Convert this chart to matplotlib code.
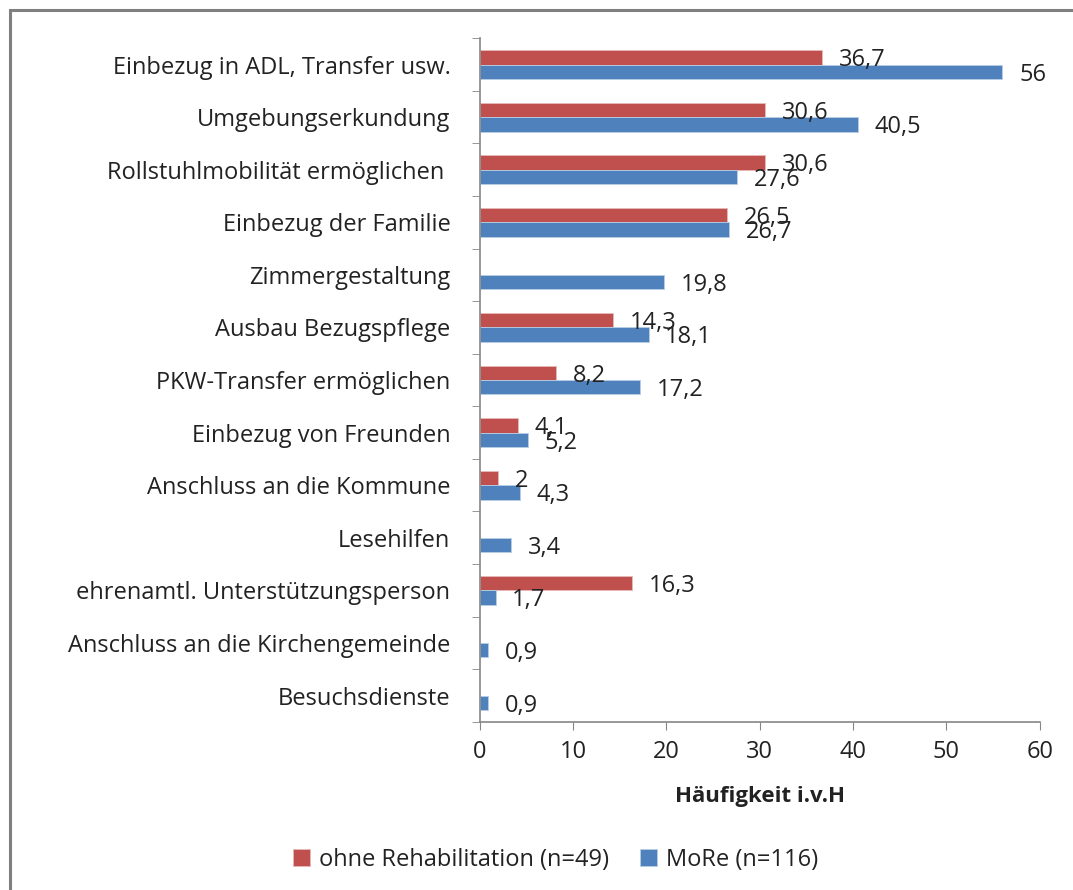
import numpy as np
import matplotlib.pyplot as plt
from matplotlib.patches import Rectangle

plt.rcParams['font.family'] = ['Open Sans', 'DejaVu Sans']

# Data (top to bottom as in the chart)
categories = ['Einbezug in ADL, Transfer usw.', 'Umgebungserkundung',
              'Rollstuhlmobilität ermöglichen ', 'Einbezug der Familie',
              'Zimmergestaltung', 'Ausbau Bezugspflege',
              'PKW-Transfer ermöglichen', 'Einbezug von Freunden',
              'Anschluss an die Kommune', 'Lesehilfen',
              'ehrenamtl. Unterstützungsperson',
              'Anschluss an die Kirchengemeinde', 'Besuchsdienste']
ohne_reha = [36.7, 30.6, 30.6, 26.5, np.nan, 14.3, 8.2, 4.1, 2, np.nan,
             16.3, np.nan, np.nan]
more = [56, 40.5, 27.6, 26.7, 19.8, 18.1, 17.2, 5.2, 4.3, 3.4, 1.7, 0.9, 0.9]
series_names = ['ohne Rehabilitation (n=49)', 'MoRe (n=116)']

RED = '#C0504D'
BLUE = '#4F81BD'
GRAY = '#868686'
TXT = '#222222'
FS = 17


def fmt(v):
    s = ('%.1f' % v).rstrip('0').rstrip('.')
    return s.replace('.', ',')


fig = plt.figure(figsize=(10.73, 8.9), dpi=100)
ax = fig.add_axes([0.447, 0.189, 0.522, 0.768])

y = np.arange(len(categories))
h = 0.275
red_bars = ax.barh(y - h / 2, ohne_reha, height=h, color=RED,
                   edgecolor='#E6B9B8', linewidth=0.6, label=series_names[0])
blue_bars = ax.barh(y + h / 2, more, height=h, color=BLUE,
                    edgecolor='#B9CDE5', linewidth=0.6, label=series_names[1])

# value labels
for bars, vals in ((red_bars, ohne_reha), (blue_bars, more)):
    for b, v in zip(bars, vals):
        if np.isnan(v):
            continue
        ax.annotate(fmt(v), (v, b.get_y() + b.get_height() / 2),
                    xytext=(12, -2), textcoords='offset points',
                    ha='left', va='center', fontsize=FS, color=TXT)

ax.set_xlim(0, 60)
ax.set_ylim(len(categories) - 0.5, -0.5)
ax.set_xticks(np.arange(0, 61, 10))
ax.set_yticks(y)
ax.set_yticklabels(categories, fontsize=FS, color=TXT)
ax.set_yticks(np.arange(-0.5, len(categories), 1), minor=True)
ax.tick_params(axis='y', which='major', length=0, pad=21)
ax.tick_params(axis='y', which='minor', length=6, color=GRAY, direction='out')
ax.tick_params(axis='x', length=6, color=GRAY, labelsize=FS,
               labelcolor=TXT, pad=7)

for s in ('top', 'right'):
    ax.spines[s].set_visible(False)
for s in ('left', 'bottom'):
    ax.spines[s].set_color(GRAY)
    ax.spines[s].set_linewidth(1.2)

ax.set_xlabel('Häufigkeit i.v.H', fontsize=16, fontweight='bold',
              color=TXT, labelpad=16)

# legend at bottom
fig.legend(handles=[red_bars, blue_bars], labels=series_names,
           loc='center', bbox_to_anchor=(0.518, 0.034), ncol=2,
           frameon=False, fontsize=FS, handlelength=0.7, handleheight=0.7,
           handletextpad=0.4, columnspacing=1.3, labelcolor=TXT)

# outer chart border (extends past right/bottom edge)
fig.patches.append(Rectangle((0.0093, -0.05), 1.1, 0.9888 + 0.05,
                             transform=fig.transFigure, fill=False,
                             edgecolor='#7F7F7F', linewidth=2.2))

plt.savefig('out.png', dpi=100)
